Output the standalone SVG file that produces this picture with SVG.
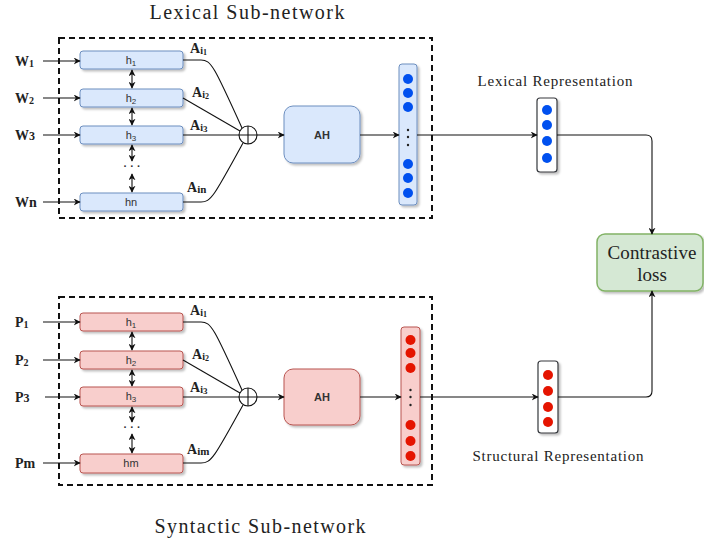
<svg xmlns="http://www.w3.org/2000/svg" width="704" height="545" viewBox="0 0 704 545">
<style>
.title{font-family:"Liberation Serif",serif;font-size:20px;fill:#222}
.lab{font-family:"Liberation Serif",serif;font-size:14px;font-weight:bold;fill:#222}
.rep{font-family:"Liberation Serif",serif;font-size:15px;fill:#222}
.loss{font-family:"Liberation Serif",serif;font-size:19px;fill:#222;text-anchor:middle}
.h{font-family:"Liberation Sans",sans-serif;font-size:11px;fill:#333;text-anchor:middle}
.ah{font-family:"Liberation Sans",sans-serif;font-size:11px;font-weight:bold;fill:#333;text-anchor:middle}
.bbox{fill:#dae8fc;stroke:#6c8ebf;stroke-width:1}
.rbox{fill:#f8cecc;stroke:#b85450;stroke-width:1}
.vec{fill:#fff;stroke:#36393d;stroke-width:1.2}
.dash{fill:none;stroke:#111;stroke-width:2;stroke-dasharray:6 4}
.ln{fill:none;stroke:#111;stroke-width:1.1}
.bd{fill:#0050ef}
.rd{fill:#e51400}
.sd{fill:#222}
</style>
<defs>
<filter id="sh" x="-20%" y="-20%" width="150%" height="150%">
<feDropShadow dx="2" dy="2" stdDeviation="1" flood-color="#000" flood-opacity="0.25"/>
</filter>
<marker id="ar" viewBox="0 0 10 10" refX="9" refY="5" markerWidth="7" markerHeight="7" orient="auto-start-reverse" markerUnits="userSpaceOnUse">
<path d="M0,0 L10,5 L0,10 L3,5 z" fill="#111"/>
</marker>
</defs>

<text class="title" x="247" y="19" text-anchor="middle" textLength="195" lengthAdjust="spacing">Lexical Sub-network</text>
<text class="title" x="260" y="533" text-anchor="middle" textLength="211" lengthAdjust="spacing">Syntactic Sub-network</text>

<rect class="dash" x="59" y="38" width="373" height="180"/>
<rect class="dash" x="59" y="297" width="373" height="188"/>

<!-- Lexical inputs -->
<g id="w1"><text class="lab" x="15" y="66">W<tspan font-size="10" dy="1">1</tspan></text></g>
<g id="w2"><text class="lab" x="15" y="103">W<tspan font-size="10" dy="1">2</tspan></text></g>
<g id="w3"><text class="lab" x="15" y="140">W<tspan font-size="12">3</tspan></text></g>
<g id="wn"><text class="lab" x="15" y="207">Wn</text></g>

<g id="lh1"><rect class="bbox" filter="url(#sh)" x="80" y="51" width="103" height="18" rx="3"/><text class="h" x="131" y="64">h<tspan font-size="8" dy="2">1</tspan></text></g>
<g id="lh2"><rect class="bbox" filter="url(#sh)" x="80" y="89" width="103" height="18" rx="3"/><text class="h" x="131" y="102">h<tspan font-size="8" dy="2">2</tspan></text></g>
<g id="lh3"><rect class="bbox" filter="url(#sh)" x="80" y="126" width="103" height="18" rx="3"/><text class="h" x="131" y="139">h<tspan font-size="8" dy="2">3</tspan></text></g>
<g id="lhn"><rect class="bbox" filter="url(#sh)" x="80" y="193" width="103" height="18" rx="3"/><text class="h" x="131" y="206">hn</text></g>
<g id="ldots"><text class="h" x="132" y="170" font-size="14" font-weight="bold">· · ·</text></g>

<g id="lai1"><text class="lab" x="190" y="53">A<tspan font-size="10" dy="1">i</tspan><tspan font-size="8" dy="1">1</tspan></text></g>
<g id="lai2"><text class="lab" x="192" y="97">A<tspan font-size="10" dy="1">i</tspan><tspan font-size="8" dy="1">2</tspan></text></g>
<g id="lai3"><text class="lab" x="190" y="130">A<tspan font-size="10" dy="1">i</tspan><tspan font-size="9" dy="1">3</tspan></text></g>
<g id="lain"><text class="lab" x="187" y="192">A<tspan font-size="11" dy="1">in</tspan></text></g>

<g id="lsum"><circle cx="248" cy="135" r="9" fill="#fff" stroke="#111" stroke-width="1.1"/><path class="ln" d="M239,135 H257 M248,126 V144"/></g>
<g id="lah"><rect class="bbox" filter="url(#sh)" x="284" y="106" width="76" height="57" rx="9"/><text class="ah" x="322" y="139">AH</text></g>
<g id="lvec"><rect class="bbox" filter="url(#sh)" x="399" y="64" width="18" height="141" rx="3"/>
<circle class="bd" cx="408" cy="79" r="5"/><circle class="bd" cx="408" cy="93" r="5"/><circle class="bd" cx="408" cy="107" r="5"/>
<circle class="sd" cx="408" cy="130" r="1.2"/><circle class="sd" cx="408" cy="137" r="1.2"/><circle class="sd" cx="408" cy="145" r="1.2"/>
<circle class="bd" cx="408" cy="164" r="5"/><circle class="bd" cx="408" cy="178" r="5"/><circle class="bd" cx="408" cy="193" r="5"/></g>

<g id="lexrep"><rect class="vec" filter="url(#sh)" x="537" y="98" width="20" height="74" rx="3"/>
<circle class="bd" cx="547" cy="110" r="5"/><circle class="bd" cx="547" cy="125" r="5"/><circle class="bd" cx="547" cy="141" r="5"/><circle class="bd" cx="547" cy="158" r="5"/></g>
<g id="lexlabel"><text class="rep" x="555" y="86" text-anchor="middle" textLength="155" lengthAdjust="spacing">Lexical Representation</text></g>

<!-- Syntactic -->
<g id="p1"><text class="lab" x="15" y="327">P<tspan font-size="10" dy="1">1</tspan></text></g>
<g id="p2"><text class="lab" x="15" y="365">P<tspan font-size="10" dy="1">2</tspan></text></g>
<g id="p3"><text class="lab" x="15" y="402">P<tspan font-size="12">3</tspan></text></g>
<g id="pm"><text class="lab" x="15" y="468">Pm</text></g>

<g id="sh1"><rect class="rbox" filter="url(#sh)" x="80" y="313" width="103" height="18" rx="3"/><text class="h" x="131" y="326">h<tspan font-size="8" dy="2">1</tspan></text></g>
<g id="sh2"><rect class="rbox" filter="url(#sh)" x="80" y="351" width="103" height="18" rx="3"/><text class="h" x="131" y="364">h<tspan font-size="8" dy="2">2</tspan></text></g>
<g id="sh3"><rect class="rbox" filter="url(#sh)" x="80" y="387" width="103" height="19" rx="3"/><text class="h" x="131" y="400">h<tspan font-size="8" dy="2">3</tspan></text></g>
<g id="shm"><rect class="rbox" filter="url(#sh)" x="80" y="454" width="103" height="19" rx="3"/><text class="h" x="131" y="467">hm</text></g>
<g id="sdots"><text class="h" x="132" y="431" font-size="14" font-weight="bold">· · ·</text></g>

<g id="sai1"><text class="lab" x="190" y="315">A<tspan font-size="10" dy="1">i</tspan><tspan font-size="8" dy="1">1</tspan></text></g>
<g id="sai2"><text class="lab" x="192" y="359">A<tspan font-size="10" dy="1">i</tspan><tspan font-size="8" dy="1">2</tspan></text></g>
<g id="sai3"><text class="lab" x="190" y="392">A<tspan font-size="10" dy="1">i</tspan><tspan font-size="9" dy="1">3</tspan></text></g>
<g id="saim"><text class="lab" x="187" y="454">A<tspan font-size="11" dy="1">im</tspan></text></g>

<g id="ssum"><circle cx="248" cy="397" r="9" fill="#fff" stroke="#111" stroke-width="1.1"/><path class="ln" d="M239,397 H257 M248,388 V406"/></g>
<g id="sah"><rect class="rbox" filter="url(#sh)" x="284" y="369" width="76" height="56" rx="9"/><text class="ah" x="322" y="401">AH</text></g>
<g id="svec"><rect class="rbox" filter="url(#sh)" x="401" y="327" width="19" height="138" rx="3"/>
<circle class="rd" cx="410.5" cy="340" r="5"/><circle class="rd" cx="410.5" cy="353" r="5"/><circle class="rd" cx="410.5" cy="368" r="5"/>
<circle class="sd" cx="410.5" cy="390" r="1.2"/><circle class="sd" cx="410.5" cy="397" r="1.2"/><circle class="sd" cx="410.5" cy="405" r="1.2"/>
<circle class="rd" cx="410.5" cy="425" r="5"/><circle class="rd" cx="410.5" cy="441" r="5"/><circle class="rd" cx="410.5" cy="456" r="5"/></g>

<g id="strrep"><rect class="vec" filter="url(#sh)" x="538" y="361" width="20" height="72" rx="3"/>
<circle class="rd" cx="548" cy="375" r="5"/><circle class="rd" cx="548" cy="391" r="5"/><circle class="rd" cx="548" cy="407" r="5"/><circle class="rd" cx="548" cy="422" r="5"/></g>
<g id="strlabel"><text class="rep" x="558" y="461" text-anchor="middle" textLength="171" lengthAdjust="spacing">Structural Representation</text></g>

<g id="loss"><rect x="597" y="234" width="106" height="57" rx="8" fill="#d5e8d4" stroke="#82b366" stroke-width="1.5" filter="url(#sh)"/>
<text class="loss" x="652" y="259" textLength="89" lengthAdjust="spacing">Contrastive</text>
<text class="loss" x="652" y="281">loss</text></g>

<g id="connectors">
<path class="ln" marker-end="url(#ar)" d="M43,61 H80"/>
<path class="ln" marker-end="url(#ar)" d="M43,98 H80"/>
<path class="ln" marker-end="url(#ar)" d="M43,135 H80"/>
<path class="ln" marker-end="url(#ar)" d="M43,202 H80"/>
<path class="ln" marker-start="url(#ar)" marker-end="url(#ar)" d="M132,70 V88"/>
<path class="ln" marker-start="url(#ar)" marker-end="url(#ar)" d="M132,108 V125"/>
<path class="ln" marker-start="url(#ar)" marker-end="url(#ar)" d="M132,145 V161"/>
<path class="ln" marker-start="url(#ar)" marker-end="url(#ar)" d="M132,174 V192"/>
<path class="ln" d="M183,60 H201 C211,60 214,66 242,128"/>
<path class="ln" d="M183,98 L240,131"/>
<path class="ln" d="M183,135 H239"/>
<path class="ln" d="M183,202 H201 C211,202 214,196 243,143"/>
<path class="ln" marker-end="url(#ar)" d="M257,135 H284"/>
<path class="ln" marker-end="url(#ar)" d="M360,135 H399"/>
<path class="ln" marker-end="url(#ar)" d="M417,135 H537"/>
<path class="ln" marker-end="url(#ar)" d="M557,135 H646 Q652,135 652,141 V234"/>

<path class="ln" marker-end="url(#ar)" d="M43,322 H80"/>
<path class="ln" marker-end="url(#ar)" d="M43,360 H80"/>
<path class="ln" marker-end="url(#ar)" d="M45,397 H80"/>
<path class="ln" marker-end="url(#ar)" d="M43,463 H80"/>
<path class="ln" marker-start="url(#ar)" marker-end="url(#ar)" d="M132,332 V350"/>
<path class="ln" marker-start="url(#ar)" marker-end="url(#ar)" d="M132,370 V386"/>
<path class="ln" marker-start="url(#ar)" marker-end="url(#ar)" d="M132,407 V422"/>
<path class="ln" marker-start="url(#ar)" marker-end="url(#ar)" d="M132,434 V453"/>
<path class="ln" d="M183,322 H201 C211,322 214,328 242,390"/>
<path class="ln" d="M183,360 L240,393"/>
<path class="ln" d="M183,397 H239"/>
<path class="ln" d="M183,463 H201 C211,463 214,458 243,405"/>
<path class="ln" marker-end="url(#ar)" d="M257,397 H284"/>
<path class="ln" marker-end="url(#ar)" d="M360,397 H401"/>
<path class="ln" marker-end="url(#ar)" d="M420,397 H538"/>
<path class="ln" marker-end="url(#ar)" d="M558,397 H646 Q652,397 652,391 V291"/>
</g>
</svg>
